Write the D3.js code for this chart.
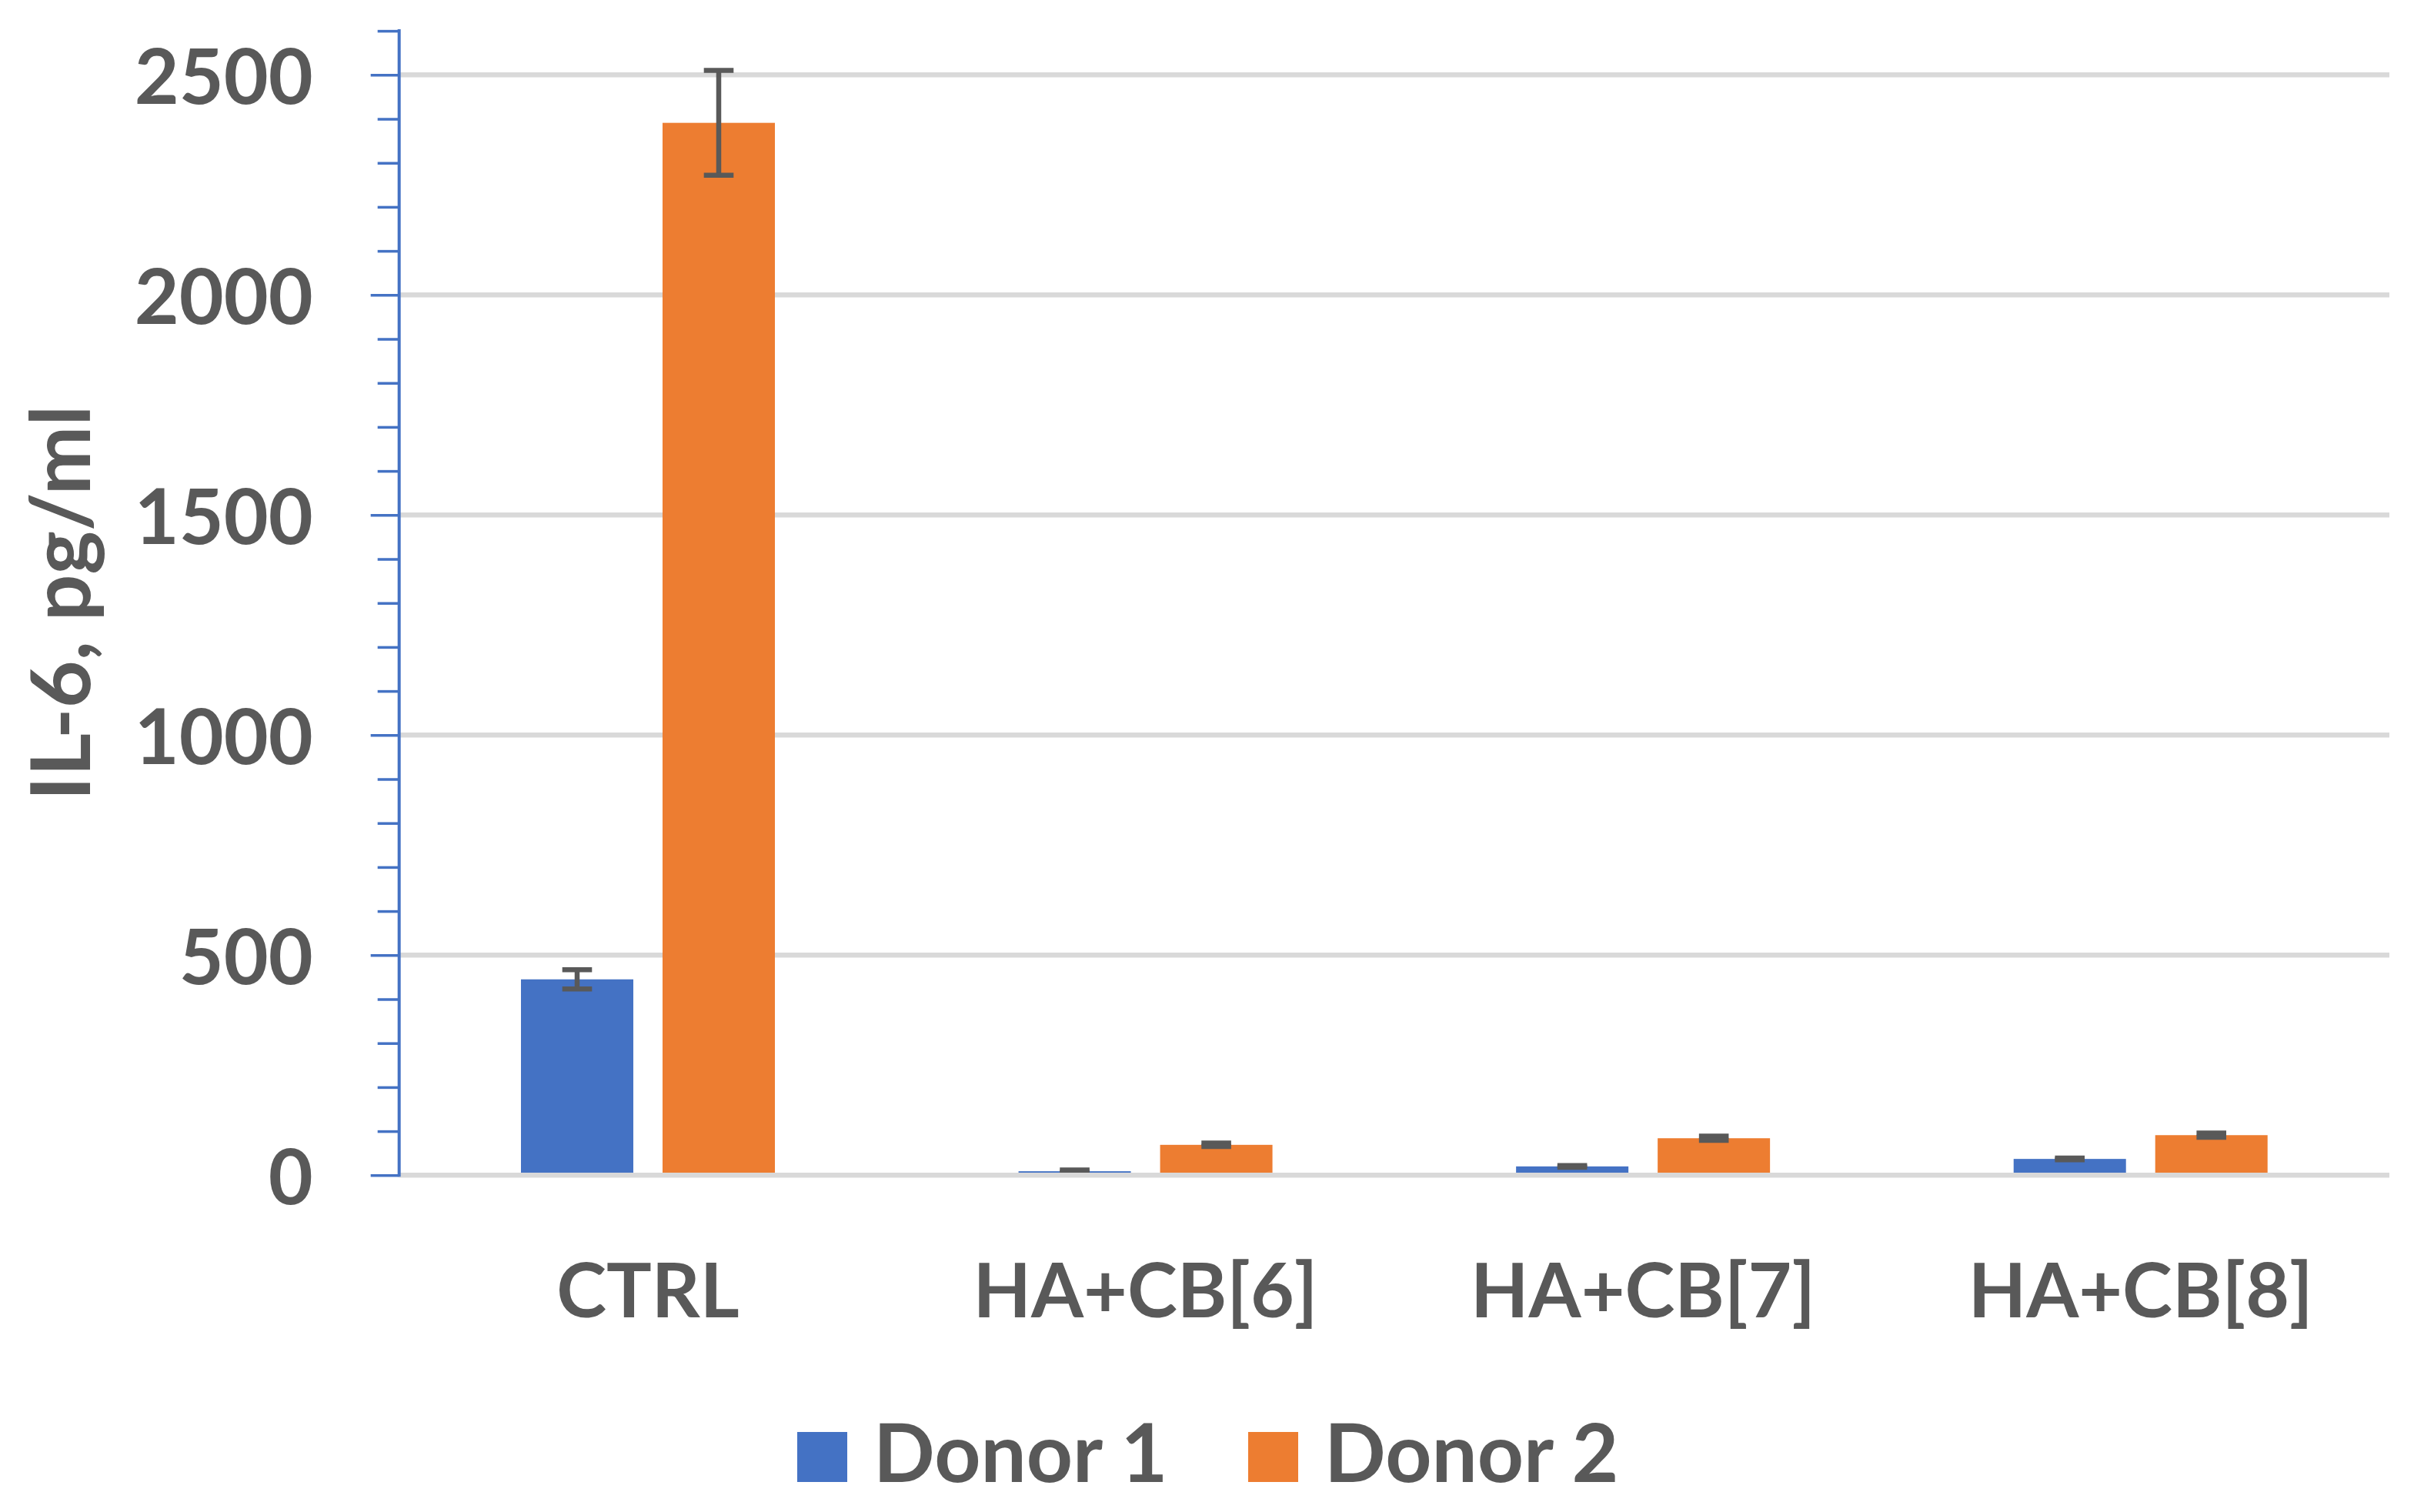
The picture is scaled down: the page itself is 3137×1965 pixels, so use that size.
<!DOCTYPE html>
<html>
<head>
<meta charset="utf-8">
<script src="https://cdn.jsdelivr.net/npm/d3@7"></script>
<style>
  html, body { margin: 0; padding: 0; background: #fff; }
  svg { display: block; }
  text { font-family: Lato, "Open Sans", sans-serif; font-weight: 700; fill: #595959; }
</style>
</head>
<body>
<svg id="chart" width="3137" height="1965"></svg>
<script>
// ---- data ----
const categories = ["CTRL", "HA+CB[6]", "HA+CB[7]", "HA+CB[8]"];
const seriesNames = ["Donor 1", "Donor 2"];
const donor1 = [445, 9, 20, 37];
const donor2 = [2391, 69, 84, 91];
const donor1Err = [22, 3, 2, 2];
const donor2Err = [119, 4, 5, 5];
const yTicksMajor = [0, 500, 1000, 1500, 2000, 2500];
const yMax = 2600;

const colors = ["#4472C4", "#ED7D31"];
const textColor = "#595959";
const gridColor = "#D9D9D9";

// ---- layout ----
const plot = { left: 518.7, right: 3105, top: 40.1, bottom: 1527.3 };
const tickFont = 100, catFont = 98, legendFont = 105, titleFont = 107;

const svg = d3.select("#chart");

const x = d3.scaleBand().domain(categories).range([plot.left, plot.right]).paddingInner(0).paddingOuter(0);
const groupW = 330;
const xs = d3.scaleBand().domain(seriesNames)
  .range([x.bandwidth() / 2 - groupW / 2, x.bandwidth() / 2 + groupW / 2])
  .paddingInner(0.2065).paddingOuter(0);
const y = d3.scaleLinear().domain([0, yMax]).range([plot.bottom, plot.top]);

// gridlines
svg.append("g").selectAll("line")
  .data(yTicksMajor.filter(d => d > 0))
  .join("line")
  .attr("x1", plot.left).attr("x2", plot.right)
  .attr("y1", d => y(d)).attr("y2", d => y(d))
  .attr("stroke", gridColor).attr("stroke-width", 6.5);

// data rows
const rows = categories.map((c, i) => ({
  cat: c,
  vals: [
    { s: seriesNames[0], v: donor1[i], e: donor1Err[i], c: colors[0] },
    { s: seriesNames[1], v: donor2[i], e: donor2Err[i], c: colors[1] }
  ]
}));

const groups = svg.append("g").selectAll("g")
  .data(rows).join("g")
  .attr("transform", d => `translate(${x(d.cat)},0)`);

groups.selectAll("rect")
  .data(d => d.vals).join("rect")
  .attr("x", d => xs(d.s))
  .attr("width", xs.bandwidth())
  .attr("y", d => y(d.v))
  .attr("height", d => y(0) - y(d.v))
  .attr("fill", d => d.c);

// category axis line (value 0)
svg.append("line")
  .attr("x1", plot.left).attr("x2", plot.right)
  .attr("y1", y(0)).attr("y2", y(0))
  .attr("stroke", gridColor).attr("stroke-width", 6.5);

// error bars
const capW = 38.6;
const eb = groups.selectAll("g.err")
  .data(d => d.vals).join("g").attr("class", "err");
eb.append("line")
  .attr("x1", d => xs(d.s) + xs.bandwidth() / 2).attr("x2", d => xs(d.s) + xs.bandwidth() / 2)
  .attr("y1", d => y(d.v + d.e)).attr("y2", d => y(d.v - d.e))
  .attr("stroke", "#595959").attr("stroke-width", 6.5);
eb.selectAll("line.cap")
  .data(d => [d, d].map((o, k) => ({ ...o, yv: k === 0 ? o.v + o.e : o.v - o.e })))
  .join("line").attr("class", "cap")
  .attr("x1", d => xs(d.s) + xs.bandwidth() / 2 - capW / 2)
  .attr("x2", d => xs(d.s) + xs.bandwidth() / 2 + capW / 2)
  .attr("y1", d => y(d.yv)).attr("y2", d => y(d.yv))
  .attr("stroke", "#595959").attr("stroke-width", 6.5);

// y axis: minor ticks
const minorTicks = d3.range(0, yMax + 1, 100).filter(d => d % 500 !== 0);
const axMinor = svg.append("g").attr("transform", `translate(${plot.left},0)`)
  .call(d3.axisLeft(y).tickValues(minorTicks).tickSize(28).tickFormat(""));
// y axis: major ticks + labels
const axMajor = svg.append("g").attr("transform", `translate(${plot.left},0)`)
  .call(d3.axisLeft(y).tickValues(yTicksMajor).tickSize(37).tickPadding(75).tickFormat(d3.format("d")));
[axMinor, axMajor].forEach(ax => {
  ax.selectAll(".domain").remove();
  ax.selectAll(".tick line").attr("stroke", colors[0]).attr("stroke-width", 3.5);
});
axMajor.selectAll(".tick text")
  .attr("fill", textColor).attr("dy", "0.37em")
  .style("font-size", tickFont + "px").style("font-family", "Lato, 'Open Sans', sans-serif").style("font-weight", 700);
svg.append("line")
  .attr("x1", plot.left).attr("x2", plot.left)
  .attr("y1", y(yMax) - 2).attr("y2", y(0) + 2)
  .attr("stroke", colors[0]).attr("stroke-width", 4);

// category labels
svg.append("g").selectAll("text")
  .data(categories).join("text")
  .attr("x", d => x(d) + x.bandwidth() / 2)
  .attr("y", 1711.7)
  .attr("text-anchor", "middle")
  .style("font-size", catFont + "px")
  .text(d => d);

// y title
svg.append("text")
  .attr("transform", `translate(116.7,${(plot.top + plot.bottom) / 2}) rotate(-90)`)
  .attr("text-anchor", "middle")
  .style("font-size", titleFont + "px")
  .text("IL-6, pg/ml");

// legend
const legendX = [1036, 1622];
const leg = svg.append("g").selectAll("g")
  .data(seriesNames).join("g")
  .attr("transform", (d, i) => `translate(${legendX[i]},1861)`);
leg.append("rect").attr("width", 65).attr("height", 65).attr("fill", (d, i) => colors[i]);
leg.append("text").attr("x", 99).attr("y", 65)
  .style("font-size", legendFont + "px").text(d => d);
</script>
</body>
</html>
